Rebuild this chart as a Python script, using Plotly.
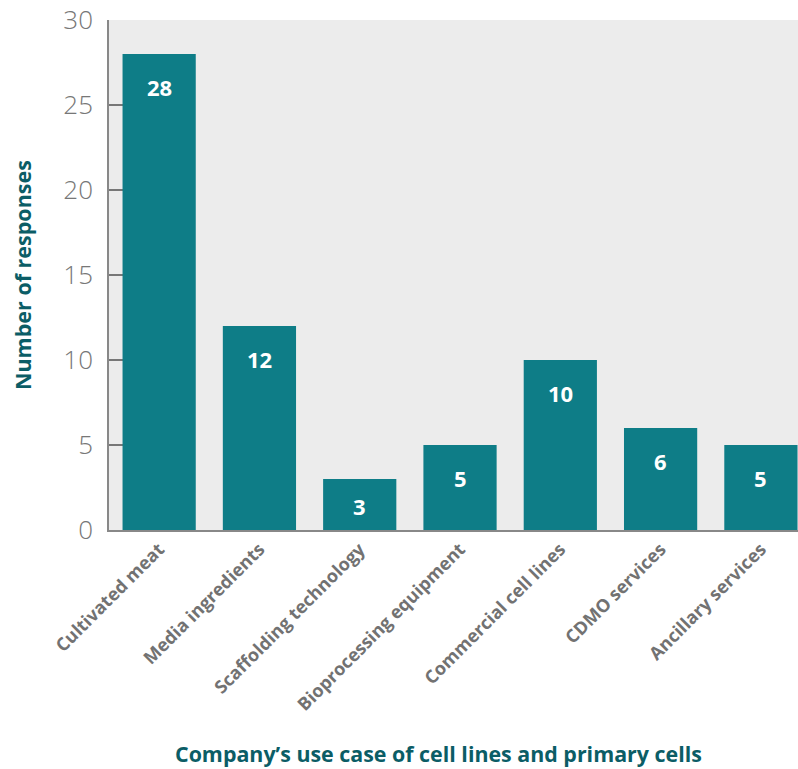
import plotly.graph_objects as go

categories = ["Cultivated meat", "Media ingredients", "Scaffolding technology",
              "Bioprocessing equipment", "Commercial cell lines", "CDMO services",
              "Ancillary services"]
responses = [28, 12, 3, 5, 10, 6, 5]
y_ticks = [0, 5, 10, 15, 20, 25, 30]

BAR = "#0e7d87"
TITLE = "#0b5d66"
GRAY = "#727272"

L, T, B = 109, 20, 769 - 530
PW, PH = 798 - 109, 530 - 20

fig = go.Figure()
fig.add_trace(go.Bar(x=categories, y=responses, marker=dict(color=BAR, line=dict(width=0)),
                     hoverinfo="skip"))

for c, v in zip(categories, responses):
    fig.add_annotation(x=c, y=v, text=f"<b>{v}</b>", showarrow=False,
                       yshift=-min(33, v * 8.5 + 1), yanchor="middle",
                       font=dict(family="Open Sans", size=22, color="white"))

fig.add_annotation(xref="paper", yref="paper", x=(438 - 109) / PW, y=-(753 - 530) / PH,
                   text="<b>Company’s use case of cell lines and primary cells</b>",
                   showarrow=False, xanchor="center", yanchor="middle", borderpad=0,
                   font=dict(family="Open Sans", size=21.4, color=TITLE))
fig.add_annotation(xref="paper", yref="paper", x=-(109 - 22) / PW, y=0.5,
                   text="<b>Number of responses</b>", textangle=-90,
                   showarrow=False, xanchor="center", yanchor="middle",
                   font=dict(family="Open Sans", size=21.5, color=TITLE))

fig.update_layout(
    width=798, height=769,
    margin=dict(l=L, r=0, t=T, b=B),
    plot_bgcolor="#ececec", paper_bgcolor="white",
    bargap=0.27, showlegend=False,
)
fig.update_xaxes(range=[-0.5, 6.37], tickangle=-45, showgrid=False,
                 showline=True, linecolor="#888888", linewidth=1.5,
                 tickfont=dict(family="Open Sans", size=18, color=GRAY, weight=700),
                 ticks="", fixedrange=True)
fig.update_yaxes(range=[0, 30], tickvals=y_ticks, showgrid=False, zeroline=False,
                 showline=True, linecolor="#888888", linewidth=1.5,
                 ticks="inside", ticklen=14, tickcolor="#777777", tickwidth=1.5,
                 layer="below traces", ticklabeloverflow="allow",
                 tickfont=dict(family="Open Sans", size=26, color="#777777", weight=300),
                 ticklabelstandoff=9, fixedrange=True)

fig.write_html("out.html", config={"displayModeBar": False},
               post_script="document.body.style.margin='0';document.body.style.overflow='hidden';")
